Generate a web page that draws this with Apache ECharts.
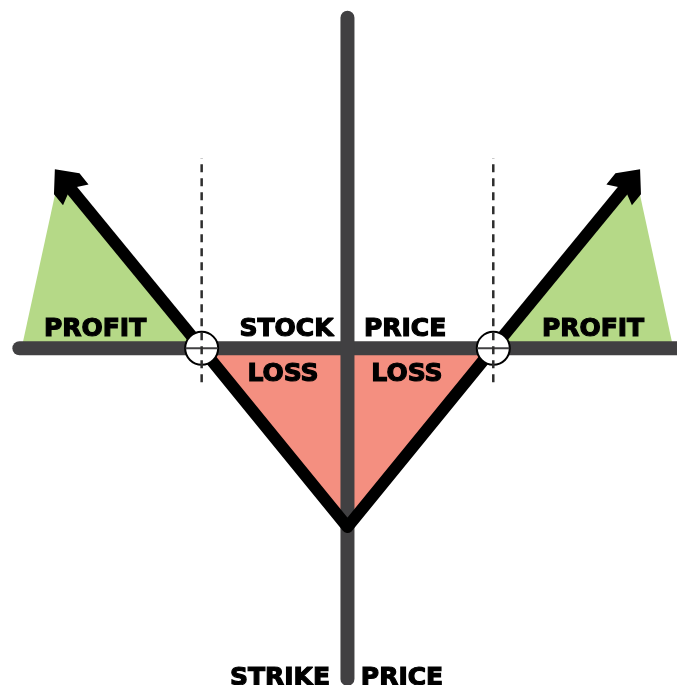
<!DOCTYPE html>
<html>
<head>
<meta charset="utf-8">
<script src="https://cdn.jsdelivr.net/npm/echarts@6/dist/echarts.min.js"></script>
<style>
html,body{margin:0;padding:0;background:#fff;}
#straddle{width:677px;height:685px;}
</style>
</head>
<body>
<div id="straddle"></div>
<script>
// long straddle: strike 100, premium 10
var breakEven = [90, 110];
var payoffX = [90, 100, 110];
var payoffY = [0, -10, 0];
var arrowEndX = [80.65, 119.35];
var arrowEndY = [9.3, 9.3];
var lossX = [90, 100, 110];
var lossY = [0, -10, 0];
var profitLeftX = [77.65, 80.22, 90];
var profitLeftY = [0, 9.64, 0];
var profitRightX = [110, 119.78, 122.35];
var profitRightY = [0, 9.64, 0];
var priceAxisX = [77.5, 123];
var strikeAxisY = [-18.5, 18.5];
var guideY = [-1.9, 10.65];
var labelText = ['PROFIT', 'STOCK', 'PRICE', 'PROFIT', 'LOSS', 'LOSS', 'STRIKE', 'PRICE'];
var labelX = [82.69, 95.82, 103.95, 116.84, 95.58, 104.08, 95.37, 103.74];
var labelY = [1.08, 1.08, 1.08, 1.08, -1.44, -1.44, -18.46, -18.46];

var AXIS_GRAY = '#414042';
var ARROW_HEAD = 'path://M17,0 L34,17 L34,30 L23,25 L11,25 L0,30 L0,17 Z';

function zip(xs, ys){
	var out = [];
	for (var i = 0; i < xs.length; i++) {
		out.push([xs[i], ys[i]]);
	}
	return out;
}

function fillSeries(xs, ys, color){
	return {
		type: 'line', z: 1, symbol: 'none', silent: true,
		data: zip(xs, ys),
		lineStyle: {width: 0},
		areaStyle: {color: color, opacity: 1}
	};
}

function plainLine(data, width, color, z, extra){
	var s = {
		type: 'line', z: z, symbol: 'none', silent: true,
		data: data,
		lineStyle: {width: width, color: color, cap: 'round', join: 'round'}
	};
	for (var k in extra) {
		s.lineStyle[k] = extra[k];
	}
	return s;
}

var series = [];
series.push(fillSeries(profitLeftX, profitLeftY, '#b5d987'));
series.push(fillSeries(profitRightX, profitRightY, '#b5d987'));
series.push(fillSeries(lossX, lossY, '#f48f80'));

// stock price line and strike line
series.push(plainLine([[priceAxisX[0], 0], [priceAxisX[1], 0]], 14, AXIS_GRAY, 2));
series.push(plainLine([[100, strikeAxisY[0]], [100, strikeAxisY[1]]], 14, AXIS_GRAY, 2));

// payoff
series.push(plainLine(zip(payoffX, payoffY), 12, '#000', 3, {cap: 'butt'}));
series.push({
	type: 'lines', coordinateSystem: 'cartesian2d', z: 3, silent: true,
	symbol: ['none', ARROW_HEAD], symbolSize: 33,
	lineStyle: {width: 12, color: '#000', opacity: 1},
	data: [
		{coords: [[breakEven[0], 0], [arrowEndX[0], arrowEndY[0]]]},
		{coords: [[breakEven[1], 0], [arrowEndX[1], arrowEndY[1]]]}
	]
});

// break-even markers
series.push({
	type: 'scatter', z: 4, silent: true,
	symbol: 'circle', symbolSize: 33,
	itemStyle: {color: '#fff', borderColor: '#000', borderWidth: 2, opacity: 1},
	data: [[breakEven[0], 0], [breakEven[1], 0]]
});
for (var i = 0; i < breakEven.length; i++) {
	series.push(plainLine([[breakEven[i] - 1.1, 0], [breakEven[i] + 1.1, 0]], 2, AXIS_GRAY, 5, {cap: 'butt'}));
	series.push(plainLine([[breakEven[i], guideY[0]], [breakEven[i], guideY[1]]], 2.5, '#2e2e2e', 5, {cap: 'butt', type: [8, 6]}));
}

// text
var labelData = [];
for (var j = 0; j < labelText.length; j++) {
	labelData.push({name: labelText[j], value: [labelX[j], labelY[j]]});
}
series.push({
	type: 'scatter', z: 6, silent: true, symbolSize: 0,
	itemStyle: {opacity: 1},
	data: labelData,
	label: {
		show: true, position: 'inside', formatter: '{b}',
		color: '#000', fontFamily: 'DejaVu Sans', fontWeight: 'bold', fontSize: 25,
		textBorderColor: '#000', textBorderWidth: 1.2,
		align: 'center', verticalAlign: 'middle'
	}
});

var chart = echarts.init(document.getElementById('straddle'));
chart.setOption({
	animation: false,
	backgroundColor: '#fff',
	grid: {left: 0, right: 0, top: 0, bottom: 0},
	xAxis: {type: 'value', min: 76.17, max: 122.6, show: false},
	yAxis: {type: 'value', min: -18.84, max: 19.49, show: false},
	series: series
});
</script>
</body>
</html>
